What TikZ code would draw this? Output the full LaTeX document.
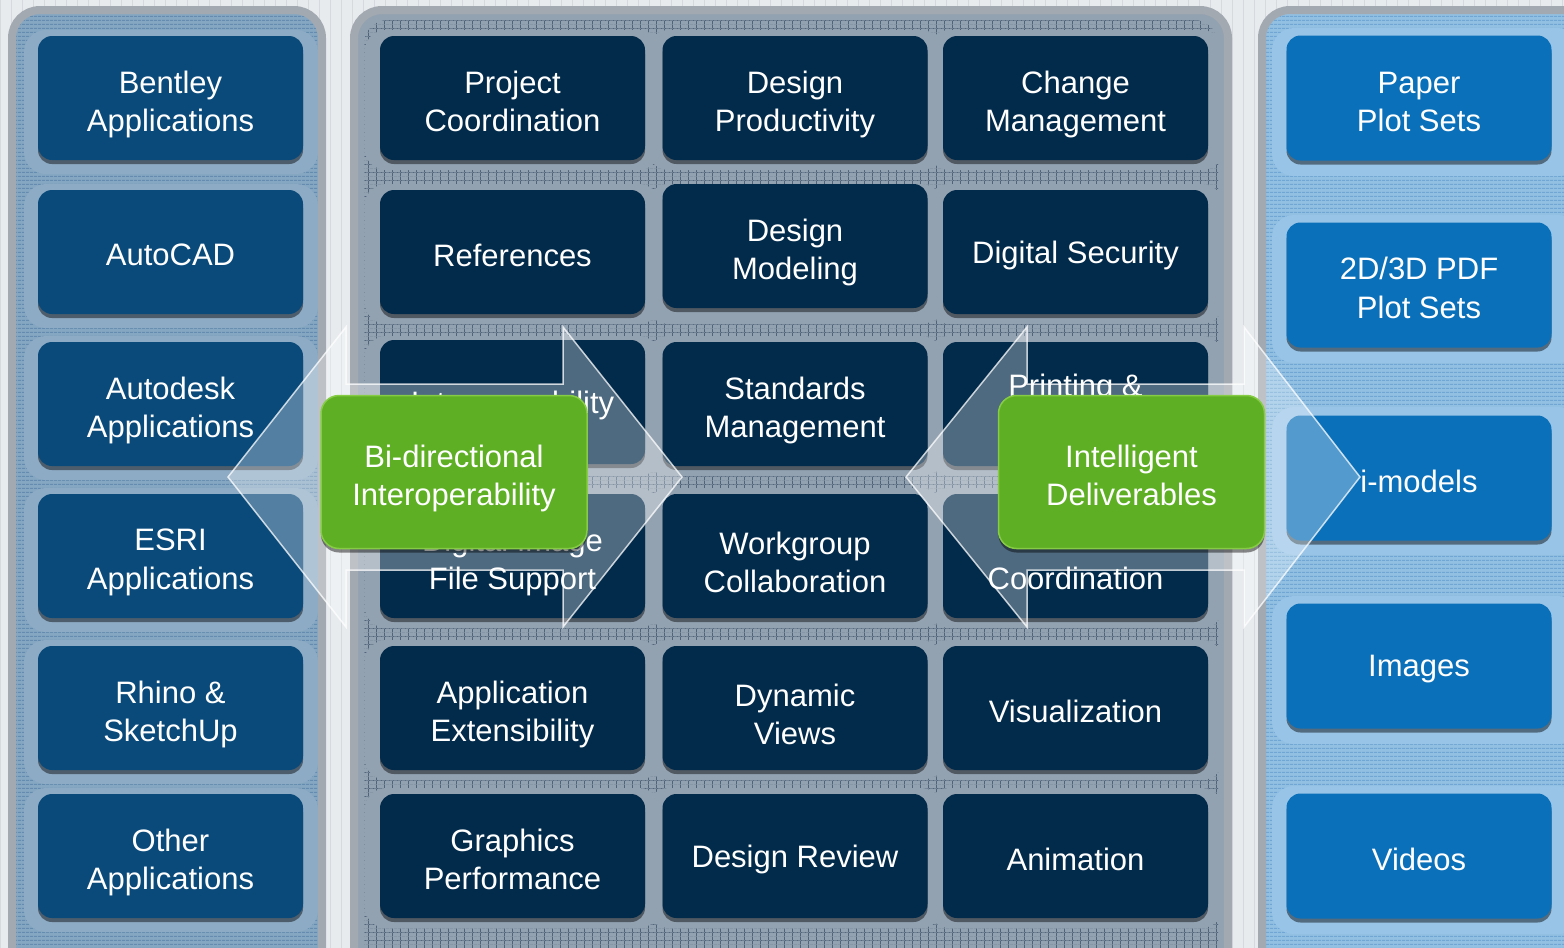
\documentclass[tikz,border=0pt]{standalone}
\usepackage{fontspec}
\setmainfont{Liberation Sans}
\usetikzlibrary{shadows,patterns.meta}
\definecolor{bgc}{HTML}{E8EBEE}
\definecolor{gridc}{HTML}{D6DADF}
\definecolor{pborder}{HTML}{A3A9B0}
\definecolor{lbase}{HTML}{86A7C2}
\definecolor{lstripe}{HTML}{648CAE}
\definecolor{lhalo}{HTML}{8DABC4}
\definecolor{lbox}{HTML}{0A4A7B}
\definecolor{mbase}{HTML}{93A2B1}
\definecolor{mgrid}{HTML}{4E647A}
\definecolor{mhalo}{HTML}{93A2B1}
\definecolor{mbox}{HTML}{022A4A}
\definecolor{rbase}{HTML}{92C0E3}
\definecolor{rstripe}{HTML}{6FA6D3}
\definecolor{rhalo}{HTML}{98C4E7}
\definecolor{rbox}{HTML}{0A70B9}
\definecolor{gbox}{HTML}{5EAF24}
\definecolor{gedge}{HTML}{86CC45}
% two-line tile: [text shift], style, name, position, text
\newcommand\mytileM[5][-6.5pt]{\node[#2] (#3) at (#4) {}; \node[tiletext, yshift=#1] (#3-text) at (#3.center) {#5};}
% one-line tile
\newcommand\mytileS[4]{\node[#1] (#2) at (#3) {}; \node[tiletext, yshift=-3pt] (#2-text) at (#2.center) {#4};}
\begin{document}
\begin{tikzpicture}[x=1pt,y=-1pt,
  tile/.style={rounded corners=14pt, minimum width=265pt, minimum height=124pt, inner sep=0pt,
    drop shadow={shadow xshift=0pt, shadow yshift=-4pt, opacity=0.45, fill=black}},
  tiletext/.style={inner sep=0pt, align=center, text=white, font=\fontsize{31}{38.5}\selectfont},
  ltile/.style={tile, fill=lbox},
  mtile/.style={tile, fill=mbox},
  rtile/.style={tile, fill=rbox, minimum height=125pt},
  gtile/.style={tile, fill=gbox, draw=gedge, line width=1.5pt, minimum width=266pt, minimum height=153pt, rounded corners=18pt},
  glass/.style={fill=white, fill opacity=0.3, draw=white, draw opacity=0.75, line width=1.5pt, line join=miter},
  panel/.style={draw=pborder, line width=8pt, rounded corners=28pt}
]
\useasboundingbox (0,0) rectangle (1564,948);
\clip (0,0) rectangle (1564,948);
% background
\fill[bgc] (0,0) rectangle (1564,948);
\draw[gridc, line width=0.7pt, step=11] (0,0) grid (1564,948);

% left panel
\fill[lbase, rounded corners=28pt] (12,10) rectangle (322,1000);
\fill[pattern={Lines[distance=4pt,angle=0,line width=1.4pt]}, pattern color=lstripe, rounded corners=24pt] (16,14) rectangle (318,1000);
\foreach \yy in {98,252,404,556,708,856}
  \fill[lhalo, rounded corners=22pt] (24,{\yy-68}) rectangle (318,{\yy+76});
\draw[panel] (12,10) rectangle (322,1000);

% middle panel
\fill[mbase, rounded corners=28pt] (354,10) rectangle (1228,1000);
\fill[pattern={Hatch[distance=8pt,line width=0.6pt]}, pattern color=mgrid, rounded corners=24pt] (364,20) rectangle (1218,1000);
\fill[pattern={Lines[distance=4pt,angle=0,line width=0.8pt]}, pattern color=mgrid!70, rounded corners=24pt] (364,20) rectangle (1218,1000);
\foreach \xx in {512.5,795,1075.5}
  \foreach \yy in {98,252,404,556,708,856}
    \fill[mhalo, rounded corners=22pt] ({\xx-148},{\yy-68}) rectangle ({\xx+148},{\yy+72});
\draw[panel] (354,10) rectangle (1228,1000);

% right panel
\fill[rbase, rounded corners=28pt] (1262,10) rectangle (1620,1000);
\fill[pattern={Lines[distance=4pt,angle=0,line width=1.4pt]}, pattern color=rstripe, rounded corners=24pt] (1266,14) rectangle (1620,1000);
\foreach \yy in {98,285,477,666,856}
  \fill[rhalo, rounded corners=22pt] (1272,{\yy-70}) rectangle (1580,{\yy+78});
\draw[panel] (1262,10) rectangle (1620,1000);

% left column
\mytileM{ltile}{bentley}{170.5,98}{Bentley\\Applications}
\mytileS{ltile}{autocad}{170.5,252}{AutoCAD}
\mytileM{ltile}{autodesk}{170.5,404}{Autodesk\\Applications}
\mytileM{ltile}{esri}{170.5,556}{ESRI\\Applications}
\mytileM{ltile}{rhino}{170.5,708}{Rhino \&\\SketchUp}
\mytileM{ltile}{other}{170.5,856}{Other\\Applications}

% middle grid
\mytileM[-3.5pt]{mtile}{projcoord}{512.5,98}{Project\\Coordination}
\mytileM{mtile}{designprod}{795,98}{Design\\Productivity}
\mytileM{mtile}{change}{1075.5,98}{Change\\Management}
\mytileS{mtile}{refs}{512.5,252}{References}
\mytileM{mtile}{designmod}{795,246}{Design\\Modeling}
\mytileS{mtile}{security}{1075.5,252}{Digital Security}
\mytileS{mtile}{interop}{512.5,402}{Interoperability}
\mytileM{mtile}{standards}{795,404}{Standards\\Management}
\mytileM[-4pt]{mtile}{printing}{1075.5,404}{Printing \&\\\vphantom{Pg}}
\mytileM{mtile}{largefile}{512.5,556}{Digital Image\\File Support}
\mytileM{mtile}{workgroup}{795,556}{Workgroup\\Collaboration}
\mytileM[-4pt]{mtile}{coord}{1075.5,556}{\vphantom{Pg}\\Coordination}
\mytileM{mtile}{appext}{512.5,708}{Application\\Extensibility}
\mytileM{mtile}{dynviews}{795,708}{Dynamic\\Views}
\mytileS{mtile}{visual}{1075.5,708}{Visualization}
\mytileM[-3.5pt]{mtile}{graphics}{512.5,856}{Graphics\\Performance}
\mytileS{mtile}{review}{795,856}{Design Review}
\mytileS{mtile}{anim}{1075.5,856}{Animation}

% right column
\mytileM[-4pt]{rtile}{paper}{1419,98}{Paper\\Plot Sets}
\mytileM[-3pt]{rtile}{pdf}{1419,285}{2D/3D PDF\\Plot Sets}
\mytileS{rtile}{imodels}{1419,478}{i-models}
\mytileS{rtile}{images}{1419,666}{Images}
\mytileS{rtile}{videos}{1419,856}{Videos}

% translucent double arrows
\path[glass] (228,477) -- (346,327) -- (346,384) -- (563,384) -- (563,327) -- (682,477)
  -- (563,627) -- (563,570) -- (346,570) -- (346,627) -- cycle;
\path[glass] (906,477) -- (1027,327) -- (1027,384) -- (1244,384) -- (1244,327) -- (1360,477)
  -- (1244,627) -- (1244,570) -- (1027,570) -- (1027,627) -- cycle;

% green boxes
\mytileM{gtile}{bidir}{454,472}{Bi-directional\\Interoperability}
\mytileM[-3.5pt]{gtile}{intel}{1131.5,472}{Intelligent\\Deliverables}
\end{tikzpicture}
\end{document}
